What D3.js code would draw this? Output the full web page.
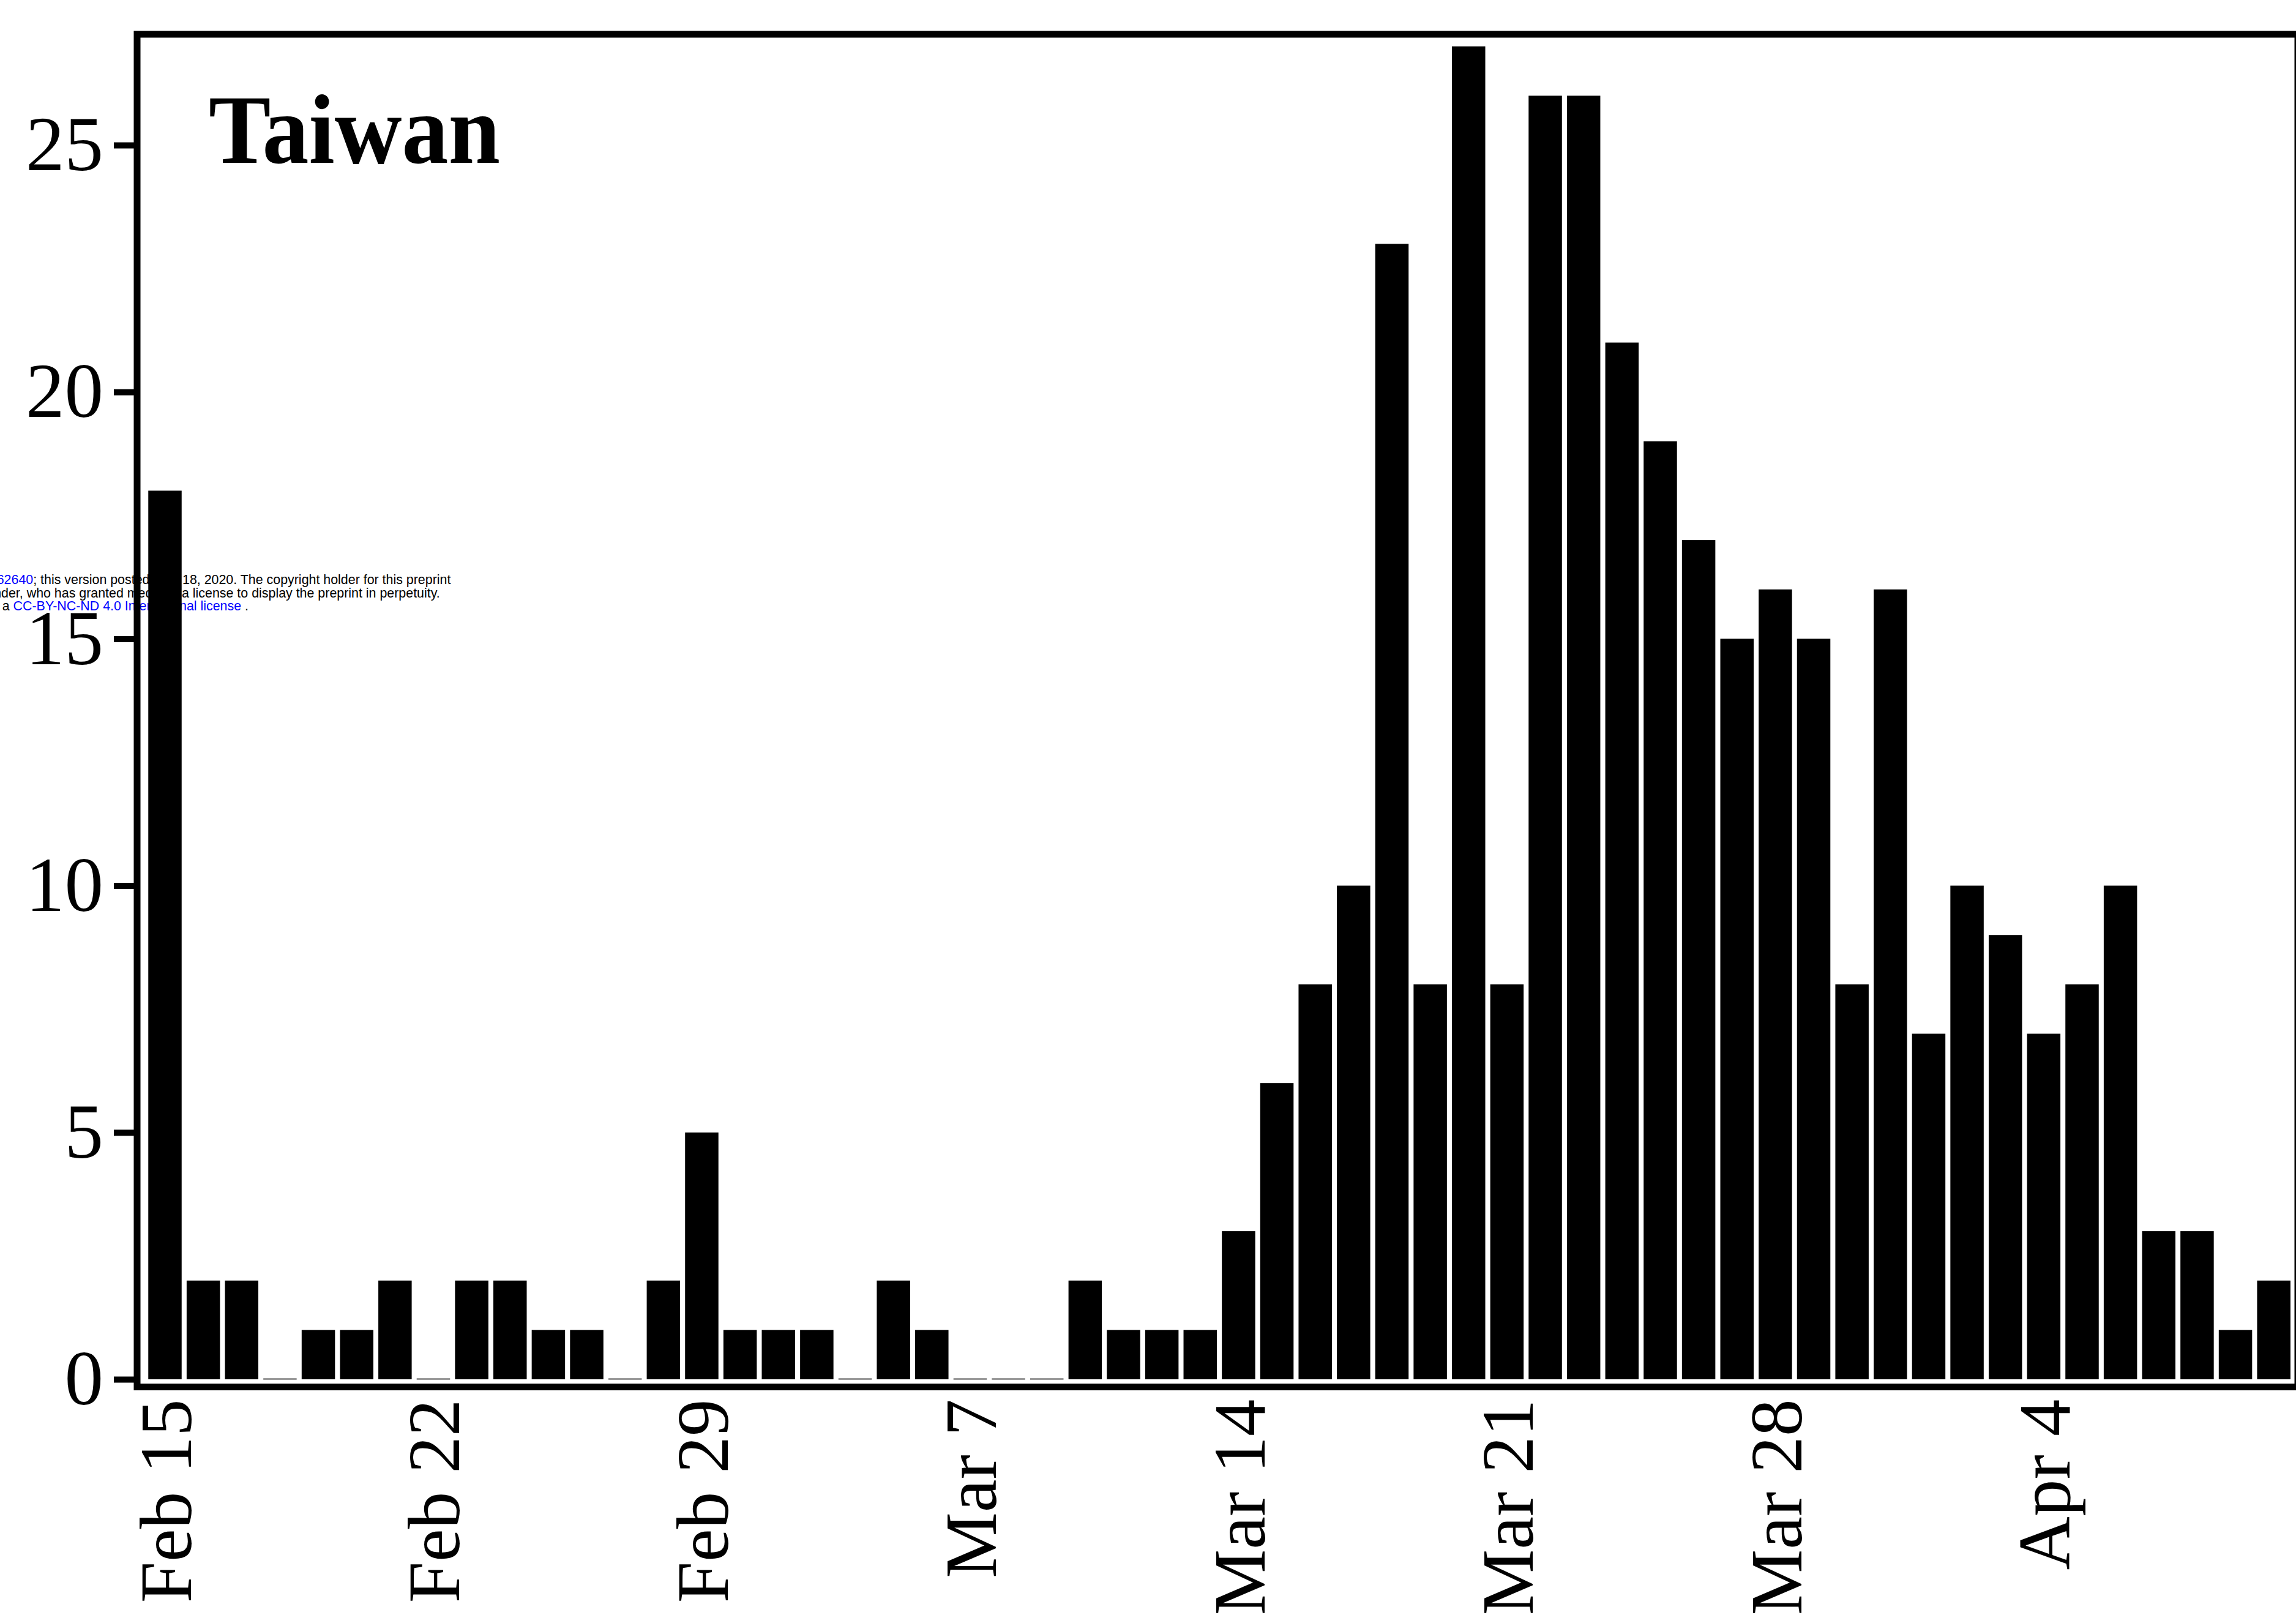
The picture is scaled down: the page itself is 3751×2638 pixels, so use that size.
<!DOCTYPE html>
<html><head><meta charset="utf-8">
<script src="https://cdn.jsdelivr.net/npm/d3@7"></script>
<style>html,body{margin:0;padding:0;background:#fff;} svg{display:block;}</style>
</head><body>
<script>
// ---- data ----
const dates = [
  "2020-02-15","2020-02-16","2020-02-17","2020-02-18","2020-02-19","2020-02-20","2020-02-21",
  "2020-02-22","2020-02-23","2020-02-24","2020-02-25","2020-02-26","2020-02-27","2020-02-28",
  "2020-02-29","2020-03-01","2020-03-02","2020-03-03","2020-03-04","2020-03-05","2020-03-06",
  "2020-03-07","2020-03-08","2020-03-09","2020-03-10","2020-03-11","2020-03-12","2020-03-13",
  "2020-03-14","2020-03-15","2020-03-16","2020-03-17","2020-03-18","2020-03-19","2020-03-20",
  "2020-03-21","2020-03-22","2020-03-23","2020-03-24","2020-03-25","2020-03-26","2020-03-27",
  "2020-03-28","2020-03-29","2020-03-30","2020-03-31","2020-04-01","2020-04-02","2020-04-03",
  "2020-04-04","2020-04-05","2020-04-06","2020-04-07","2020-04-08","2020-04-09","2020-04-10"
];
const cases = [
  18,2,2,0,1,1,2,
  0,2,2,1,1,0,2,
  5,1,1,1,0,2,1,
  0,0,0,2,1,1,1,
  3,6,8,10,23,8,27,
  8,26,26,21,19,17,15,
  16,15,8,16,7,10,9,
  7,8,10,3,3,1,2
];
const tickDates = ["2020-02-15","2020-02-22","2020-02-29","2020-03-07","2020-03-14","2020-03-21","2020-03-28","2020-04-04"];
const yTicks = [0,5,10,15,20,25];
const titleText = "Taiwan";
const notice1a = [["medRxiv preprint doi: ","#000"],["https://doi.org/10.1101/2020.04.14.20062640","#0000FF"],["; this version posted April","#000"]];
const notice1b = "18, 2020. The copyright holder for this preprint";
const notice2a = "(which was not certified by peer review) is the author/funder, who has granted medRxiv";
const notice2b = "a license to display the preprint in perpetuity.";
const notice3 = [["It is made available under a ","#000"],["CC-BY-NC-ND 4.0 International license","#0000FF"],[" .","#000"]];

// ---- layout ----
const W = 3751, H = 2638;
const svg = d3.select("body").append("svg").attr("width", W).attr("height", H);

// notice text (drawn beneath the chart)
const nt = svg.append("g").attr("font-family", "Liberation Sans, Arial, sans-serif").attr("font-size", 21.4);
const t1a = nt.append("text").attr("x", 292).attr("y", 954).attr("text-anchor", "end");
notice1a.forEach(([s, c]) => t1a.append("tspan").attr("fill", c).text(s));
nt.append("text").attr("x", 298).attr("y", 954).attr("fill", "#000").text(notice1b);
nt.append("text").attr("x", 291).attr("y", 976).attr("text-anchor", "end").attr("fill", "#000").text(notice2a);
nt.append("text").attr("x", 297).attr("y", 976).attr("fill", "#000").text(notice2b);
const t3 = nt.append("text").attr("x", 406).attr("y", 997).attr("text-anchor", "end").attr("xml:space", "preserve");
notice3.forEach(([s, c]) => t3.append("tspan").attr("fill", c).text(s));

// scales
const step = 62.64, firstCenter = 269.5;
const x = d3.scaleBand()
  .domain(dates)
  .range([firstCenter - step / 2, firstCenter - step / 2 + step * dates.length])
  .paddingInner(0.13).paddingOuter(0.065);
const y = d3.scaleLinear().domain([0, 25]).range([2253, 237]);

const chart = svg.append("g");

// bars
chart.append("g").selectAll("rect.bar")
  .data(dates.map((d, i) => ({ d, v: cases[i] })).filter(o => o.v > 0))
  .join("rect").attr("class", "bar")
  .attr("x", o => x(o.d))
  .attr("width", x.bandwidth())
  .attr("y", o => y(o.v))
  .attr("height", o => y(0) - y(o.v))
  .attr("fill", "#000");
// zero-height bars show as a thin grey line
chart.append("g").selectAll("rect.zero")
  .data(dates.map((d, i) => ({ d, v: cases[i] })).filter(o => o.v === 0))
  .join("rect").attr("class", "zero")
  .attr("x", o => x(o.d))
  .attr("width", x.bandwidth())
  .attr("y", y(0) - 2)
  .attr("height", 3)
  .attr("fill", "#9a9a9a");

// frame
const frameLeft = 224, frameTop = 56, frameRight = 3754, frameBottom = 2265.5;
chart.append("rect")
  .attr("x", frameLeft).attr("y", frameTop)
  .attr("width", frameRight - frameLeft).attr("height", frameBottom - frameTop)
  .attr("fill", "none").attr("stroke", "#000").attr("stroke-width", 11)
  .attr("stroke-linejoin", "miter");

// y axis
const yAxis = chart.append("g").attr("transform", `translate(${frameLeft - 5},0)`)
  .call(d3.axisLeft(y).tickValues(yTicks).tickSize(33).tickPadding(17).tickFormat(d3.format("d")));
yAxis.select(".domain").remove();
yAxis.selectAll(".tick line").attr("stroke", "#000").attr("stroke-width", 10);
yAxis.selectAll(".tick text")
  .attr("font-family", "Liberation Serif, Times New Roman, serif")
  .attr("font-size", 127).attr("fill", "#000");

// x axis
const fmt = d3.timeFormat("%b %-d"), parse = d3.timeParse("%Y-%m-%d");
const xAxis = chart.append("g").attr("transform", `translate(0,${frameBottom})`)
  .call(d3.axisBottom(x).tickValues(tickDates).tickSize(0).tickFormat(d => fmt(parse(d))));
xAxis.select(".domain").remove();
xAxis.selectAll(".tick text")
  .attr("font-family", "Liberation Serif, Times New Roman, serif")
  .attr("font-size", 121).attr("fill", "#000")
  .attr("text-anchor", "end")
  .attr("transform", "rotate(-90)")
  .attr("x", -20).attr("y", 0).attr("dy", "0.35em");

// title
chart.append("text")
  .attr("transform", "translate(341,266) scale(1,1.06)")
  .attr("font-family", "Liberation Serif, Times New Roman, serif")
  .attr("font-weight", "bold").attr("font-size", 152).attr("fill", "#000")
  .text(titleText);
</script>
</body></html>
